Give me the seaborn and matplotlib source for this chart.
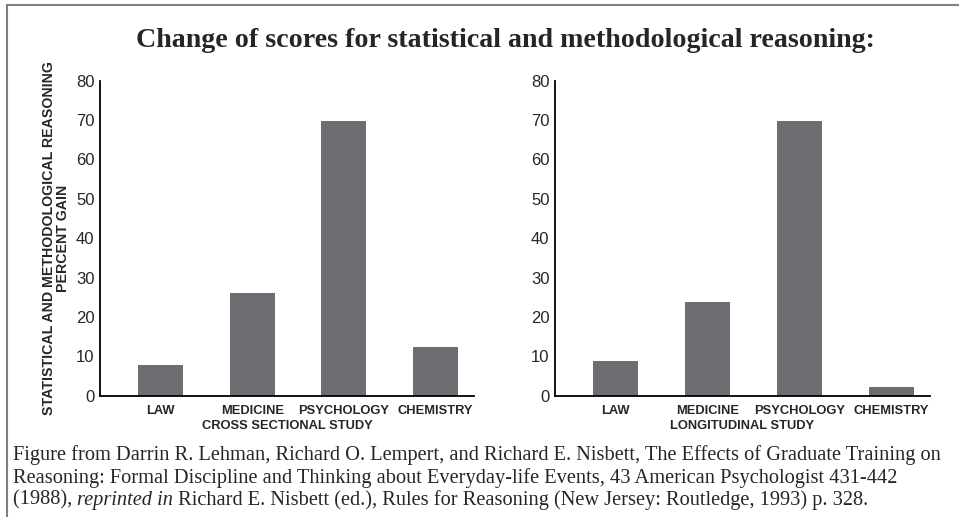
import pandas as pd
import matplotlib
matplotlib.use("Agg")
import matplotlib.pyplot as plt
import seaborn as sns

# Data
fields = ["LAW", "MEDICINE", "PSYCHOLOGY", "CHEMISTRY"]
cross_sectional = [7.7, 26.2, 69.8, 12.3]
longitudinal = [8.8, 23.8, 69.8, 2.2]
y_ticks = [0, 10, 20, 30, 40, 50, 60, 70, 80]

title = "Change of scores for statistical and methodological reasoning:"
y_label = "STATISTICAL AND METHODOLOGICAL REASONING\nPERCENT GAIN"
caption_1 = ("Figure from Darrin R. Lehman, Richard O. Lempert, and Richard E. Nisbett, "
             "The Effects of Graduate Training on")
caption_2 = ("Reasoning: Formal Discipline and Thinking about Everyday-life Events, "
             "43 American Psychologist 431-442")
caption_3 = [("(1988), ", "normal"), ("reprinted in", "italic"),
             (" Richard E. Nisbett (ed.), Rules for Reasoning (New Jersey: Routledge, 1993) p. 328.", "normal")]

bar_color = "#6d6e71"

sns.set_style("white")
plt.rcParams["font.family"] = ["Liberation Sans", "DejaVu Sans"]

fig = plt.figure(figsize=(9.59, 5.17), dpi=100)
ax1 = fig.add_axes([0.1043, 0.2346, 0.390, 0.6093])
ax2 = fig.add_axes([0.5787, 0.2346, 0.391, 0.6093])

panels = [(ax1, cross_sectional, "CROSS SECTIONAL STUDY"),
          (ax2, longitudinal, "LONGITUDINAL STUDY")]

for ax, values, xlab in panels:
    df = pd.DataFrame({"field": fields, "gain": values})
    sns.barplot(data=df, x="field", y="gain", color=bar_color, width=0.49,
                saturation=1, edgecolor="none", ax=ax)
    ax.set_xlim(-0.66, 3.42)
    ax.set_ylim(0, 80)
    ax.set_yticks(y_ticks)
    ax.set_yticklabels([str(t) for t in y_ticks], fontsize=12)
    ax.tick_params(axis="y", direction="in", length=9, width=1, pad=4, color="black")
    ax.tick_params(axis="x", length=0, pad=7)
    for lbl in ax.get_xticklabels():
        lbl.set_fontweight("bold")
        lbl.set_fontsize(9.3)
    ax.set_xlabel(xlab, fontsize=9.3, fontweight="bold", labelpad=2)
    ax.set_ylabel("")
    sns.despine(ax=ax)
    for side in ["left", "bottom"]:
        ax.spines[side].set_color("black")
        ax.spines[side].set_linewidth(1.3)

ax1.set_ylabel(y_label, fontsize=10.2, fontweight="bold", linespacing=1.0, labelpad=4)

# Title and frame
fig.text(0.527, 0.922, title, ha="center", va="center", fontsize=20.2,
         fontweight="bold", family="Liberation Serif")
frame = plt.Rectangle((7 / 959, -0.05), 1.05, 1 - 5 / 517 + 0.05, transform=fig.transFigure,
                      fill=False, edgecolor="#808080", linewidth=1.5, clip_on=False)
fig.add_artist(frame)

# Caption
cap_x = 13 / 959
cap_size = 14.7
fig.text(cap_x, 1 - 455 / 517, caption_1, ha="left", va="center", fontsize=cap_size,
         family="Liberation Serif")
fig.text(cap_x, 1 - 478 / 517, caption_2, ha="left", va="center", fontsize=cap_size,
         family="Liberation Serif")
renderer = fig.canvas.get_renderer()
x = cap_x
for piece, style in caption_3:
    t = fig.text(x, 1 - 500 / 517, piece, ha="left", va="center", fontsize=cap_size,
                 family="Liberation Serif", style=style)
    bb = t.get_window_extent(renderer=renderer)
    x += bb.width / fig.bbox.width

fig.savefig("out.png", dpi=100)
